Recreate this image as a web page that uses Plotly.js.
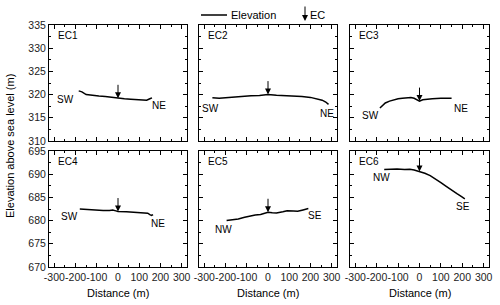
<!DOCTYPE html>
<html>
<head>
<meta charset="utf-8">
<script src="https://cdn.plot.ly/plotly-3.0.1.min.js"></script>
<style>html,body{margin:0;padding:0;background:#fff;}#chart{width:500px;height:305px;}</style>
</head>
<body>
<div id="chart"></div>
<script>
// ---- data ----
const panelNames = ["EC1", "EC2", "EC3", "EC4", "EC5", "EC6"];
const xTickVals = [-300, -200, -100, 0, 100, 200, 300];
const xTickText = ["-300", "-200", "-100", "0", "100", "200", "300"];

const ec1X = [-185, -170, -150, -120, -90, -60, -30, 0, 30, 60, 90, 120, 135, 150, 160];
const ec1Y = [320.8, 320.6, 320.0, 319.8, 319.7, 319.6, 319.4, 319.2, 319.1, 319.0, 318.9, 318.7, 318.8, 319.1, 319.3];

const ec2X = [-262, -230, -200, -160, -120, -80, -40, 0, 40, 80, 120, 160, 200, 230, 255, 272, 285];
const ec2Y = [319.3, 319.2, 319.3, 319.5, 319.7, 319.75, 319.8, 320.0, 319.85, 319.8, 319.75, 319.6, 319.4, 319.1, 318.8, 318.4, 317.9];

const ec3X = [-185, -175, -160, -140, -120, -100, -80, -60, -40, -25, -10, 0, 15, 30, 60, 100, 150];
const ec3Y = [317.1, 317.6, 318.2, 318.6, 318.9, 319.1, 319.2, 319.3, 319.35, 319.2, 318.8, 318.6, 318.9, 319.0, 319.1, 319.2, 319.2];

const ec4X = [-180, -150, -110, -70, -40, -25, -10, 0, 40, 80, 120, 140, 150, 158, 165];
const ec4Y = [682.5, 682.4, 682.3, 682.2, 682.2, 682.3, 682.1, 681.95, 681.9, 681.8, 681.7, 681.6, 681.3, 681.1, 681.3];

const ec5X = [-195, -170, -140, -110, -85, -60, -35, -15, 0, 20, 40, 70, 90, 120, 140, 165, 190];
const ec5Y = [680.0, 680.1, 680.35, 680.7, 681.0, 681.2, 681.3, 681.55, 681.8, 681.7, 681.65, 681.9, 682.1, 682.05, 682.0, 682.3, 682.6];

const ec6X = [-165, -140, -105, -70, -45, -25, 0, 25, 50, 75, 100, 125, 150, 175, 195, 212];
const ec6Y = [691.0, 691.05, 691.1, 691.0, 691.05, 690.9, 690.6, 690.2, 689.7, 689.0, 688.2, 687.4, 686.5, 685.8, 685.2, 684.7];

// EC position (arrow) for each panel: distance and elevation at the tip
const ecPosX = [0, 0, 0, 0, 0, 0];
const ecPosY = [319.2, 320.0, 318.6, 681.95, 681.8, 690.6];

// end labels
const startLabels = ["SW", "SW", "SW", "SW", "NW", "NW"];
const startLabelX = [-248, -272, -229, -227, -209, -177];
const startLabelY = [318.9, 317.1, 315.4, 680.9, 678.0, 689.2];
const endLabels = ["NE", "NE", "NE", "NE", "SE", "SE"];
const endLabelX = [194, 277, 195, 190, 221, 204];
const endLabelY = [317.6, 315.9, 317.1, 679.3, 681.1, 683.1];

const topYRange = [310, 335];
const botYRange = [670, 695];
const xRange = [-325, 325];

// ---- build ----
const xsAll = [ec1X, ec2X, ec3X, ec4X, ec5X, ec6X];
const ysAll = [ec1Y, ec2Y, ec3Y, ec4Y, ec5Y, ec6Y];

const W = 500, H = 305;
const colPx = [[49, 187], [199, 337], [350, 489]];
const rowPx = [[25, 141], [151, 267]];
const FONT = "Liberation Sans, Arial, sans-serif";
const TICKFONT = {family: FONT, size: 10.5, color: "#222"};

const traces = [];
const layout = {
  width: W, height: H,
  margin: {l: 0, r: 0, t: 0, b: 0},
  paper_bgcolor: "#fff", plot_bgcolor: "#fff",
  showlegend: false,
  font: {family: FONT, size: 11, color: "#000"},
  annotations: [], shapes: []
};

for (let i = 0; i < 6; i++) {
  const r = Math.floor(i / 3), c = i % 3;
  const sfx = i === 0 ? "" : String(i + 1);
  const xa = "x" + sfx, ya = "y" + sfx;
  traces.push({
    type: "scatter", mode: "lines",
    x: xsAll[i], y: ysAll[i], xaxis: xa, yaxis: ya,
    line: {color: "#000", width: 1.5},
    name: "Elevation", hoverinfo: "skip"
  });
  const xdom = [colPx[c][0] / W, colPx[c][1] / W];
  const ydom = [1 - rowPx[r][1] / H, 1 - rowPx[r][0] / H];
  const common = {
    showline: true, linecolor: "#000", linewidth: 1, mirror: "allticks",
    ticks: "inside", ticklen: 4, tickwidth: 1, tickcolor: "#000",
    showgrid: false, zeroline: false, fixedrange: true,
    tickfont: TICKFONT
  };
  layout["xaxis" + sfx] = Object.assign({}, common, {
    domain: xdom, anchor: ya, range: xRange,
    tickmode: "array", tickvals: xTickVals, ticktext: xTickText,
    tickangle: 0, ticklabeloverflow: "allow",
    showticklabels: r === 1,
    minor: {tickvals: [-250, -150, -50, 50, 150, 250], ticks: "inside", ticklen: 2, tickcolor: "#000", showgrid: false}
  });
  const yr = r === 0 ? topYRange : botYRange;
  layout["yaxis" + sfx] = Object.assign({}, common, {
    domain: ydom, anchor: xa, range: yr,
    tickmode: "linear", tick0: yr[0], dtick: 5,
    showticklabels: c === 0,
    minor: {dtick: 2.5, tick0: yr[0], ticks: "inside", ticklen: 2, tickcolor: "#000", showgrid: false}
  });
  // panel name
  layout.annotations.push({
    xref: xa + " domain", yref: ya + " domain", x: 0.05, y: 0.97,
    xanchor: "left", yanchor: "top", showarrow: false,
    text: panelNames[i], font: {family: FONT, size: 10, color: "#000"}
  });
  // EC arrow
  layout.annotations.push({
    xref: xa, yref: ya, x: ecPosX[i], y: ecPosY[i],
    ax: 0, ay: -15, text: "", showarrow: true,
    arrowhead: 2, arrowsize: 1.2, arrowwidth: 1, arrowcolor: "#000", standoff: 0
  });
  layout.annotations.push({
    xref: xa, yref: ya, x: startLabelX[i], y: startLabelY[i],
    showarrow: false, text: startLabels[i], font: {family: FONT, size: 10, color: "#000"}
  });
  layout.annotations.push({
    xref: xa, yref: ya, x: endLabelX[i], y: endLabelY[i],
    showarrow: false, text: endLabels[i], font: {family: FONT, size: 10, color: "#000"}
  });
  if (r === 1) {
    layout.annotations.push({
      xref: "paper", yref: "paper", x: (xdom[0] + xdom[1]) / 2, y: 1 - 293 / H,
      xanchor: "center", yanchor: "middle", showarrow: false,
      text: "Distance (m)", font: {family: FONT, size: 11, color: "#000"}
    });
  }
}

// y-axis title spanning both rows
layout.annotations.push({
  xref: "paper", yref: "paper", x: 10 / W, y: 1 - 146 / H,
  xanchor: "center", yanchor: "middle", textangle: -90, showarrow: false,
  text: "Elevation above sea level (m)", font: {family: FONT, size: 11, color: "#000"}
});

// legend
layout.shapes.push({
  type: "line", xref: "paper", yref: "paper",
  x0: 201 / W, x1: 227 / W, y0: 1 - 15 / H, y1: 1 - 15 / H,
  line: {color: "#000", width: 1.5}
});
layout.annotations.push({
  xref: "paper", yref: "paper", x: 229 / W, y: 1 - 15 / H,
  xanchor: "left", yanchor: "middle", showarrow: false,
  text: "Elevation", font: {family: FONT, size: 11, color: "#000"}
});
layout.annotations.push({
  xref: "paper", yref: "paper", x: 305 / W, y: 1 - 21 / H,
  ax: 0, ay: -16, text: "", showarrow: true,
  arrowhead: 2, arrowsize: 1.2, arrowwidth: 1, arrowcolor: "#000", standoff: 0
});
layout.annotations.push({
  xref: "paper", yref: "paper", x: 308 / W, y: 1 - 15 / H,
  xanchor: "left", yanchor: "middle", showarrow: false,
  text: "EC", font: {family: FONT, size: 11, color: "#000"}
});

Plotly.newPlot("chart", traces, layout, {displayModeBar: false, staticPlot: true});
</script>
</body>
</html>
